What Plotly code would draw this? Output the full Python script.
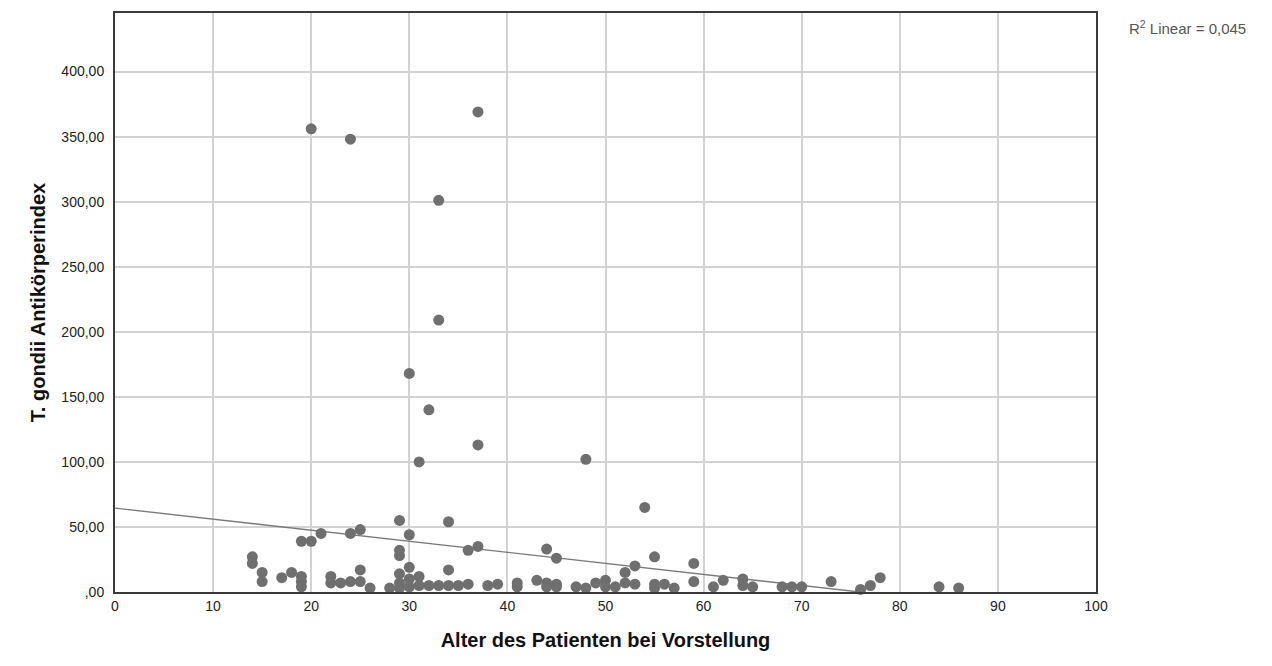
import plotly.graph_objects as go

# Patient age (years) and T. gondii antibody index
age = [20, 24, 37, 33, 33, 30, 32, 37, 31, 48, 54,
       29, 34, 30, 21, 24, 25, 19, 20, 29, 29, 36, 37, 44, 45, 14, 14, 55, 59, 53,
       30, 34, 25, 52, 15, 18, 29, 31, 22, 19, 17, 78, 64, 30, 62, 43, 50,
       15, 19, 19, 22, 23, 24, 25, 26, 28, 29, 29, 30, 31, 32, 33, 34, 35, 36,
       38, 39, 41, 41, 44, 44, 45, 45, 47, 48, 49, 50, 51, 52, 53, 55, 55, 56,
       57, 59, 61, 64, 65, 68, 69, 70, 73, 76, 77, 84, 86]
index = [356, 348, 369, 301, 209, 168, 140, 113, 100, 102, 65,
         55, 54, 44, 45, 45, 48, 39, 39, 32, 28, 32, 35, 33, 26, 27, 22, 27, 22, 20,
         19, 17, 17, 15, 15, 15, 14, 12, 12, 12, 11, 11, 10, 10, 9, 9, 9,
         8, 8, 4, 7, 7, 8, 8, 3, 3, 7, 3, 4, 5, 5, 5, 5, 5, 6,
         5, 6, 7, 4, 7, 4, 6, 4, 4, 3, 7, 4, 4, 7, 6, 6, 3, 6,
         3, 8, 4, 5, 4, 4, 4, 4, 8, 2, 5, 4, 3]

# Linear fit (SPSS "R2 Linear" line)
fit_intercept = 64.5
fit_slope = -0.85
r2_text = "0,045"

x_ticks = [0, 10, 20, 30, 40, 50, 60, 70, 80, 90, 100]
y_ticks = [0, 50, 100, 150, 200, 250, 300, 350, 400]
y_tick_labels = [",00", "50,00", "100,00", "150,00", "200,00", "250,00",
                 "300,00", "350,00", "400,00"]

FONT = "Liberation Sans, Arial, sans-serif"

# fit line drawn from x=0 to where it meets the x axis
x_end = -fit_intercept / fit_slope
fit_x = [0, x_end]
fit_y = [fit_intercept + fit_slope * v for v in fit_x]

fig = go.Figure()
fig.add_trace(go.Scatter(
    x=fit_x, y=fit_y, mode="lines",
    line=dict(color="#7a7a7a", width=1.3),
    hoverinfo="skip", showlegend=False, cliponaxis=True,
))
fig.add_trace(go.Scatter(
    x=age, y=index, mode="markers",
    marker=dict(color="#6f6f6f", size=11, line=dict(width=0)),
    showlegend=False, cliponaxis=False,
))

axis_common = dict(
    showgrid=True, gridcolor="#d2d2d2", gridwidth=1.5,
    showline=True, linecolor="#3a3a3a", linewidth=2, mirror=True,
    zeroline=False, ticks="",
    tickfont=dict(family=FONT, size=14, color="#222222"),
)

fig.update_xaxes(
    range=[0, 100], tickvals=x_ticks, ticktext=[str(v) for v in x_ticks],
    title=dict(text="<b>Alter des Patienten bei Vorstellung</b>",
               font=dict(family=FONT, size=20, color="#111111"), standoff=20),
    **axis_common,
)
fig.update_yaxes(
    range=[0, 445], tickvals=y_ticks, ticktext=y_tick_labels,
    ticklabelstandoff=6,
    title=dict(text="<b>T. gondii Antikörperindex</b>",
               font=dict(family=FONT, size=20, color="#111111"), standoff=10),
    **axis_common,
)

fig.add_annotation(
    xref="paper", yref="paper", x=1.032, y=0.975, xanchor="left", yanchor="middle",
    text="R<sup>2</sup> Linear = " + r2_text, showarrow=False,
    font=dict(family=FONT, size=15, color="#555555"),
)

fig.update_layout(
    width=1272, height=666,
    margin=dict(l=115, r=176, t=13, b=74),
    paper_bgcolor="white", plot_bgcolor="white",
)

fig.write_html("out.html")
